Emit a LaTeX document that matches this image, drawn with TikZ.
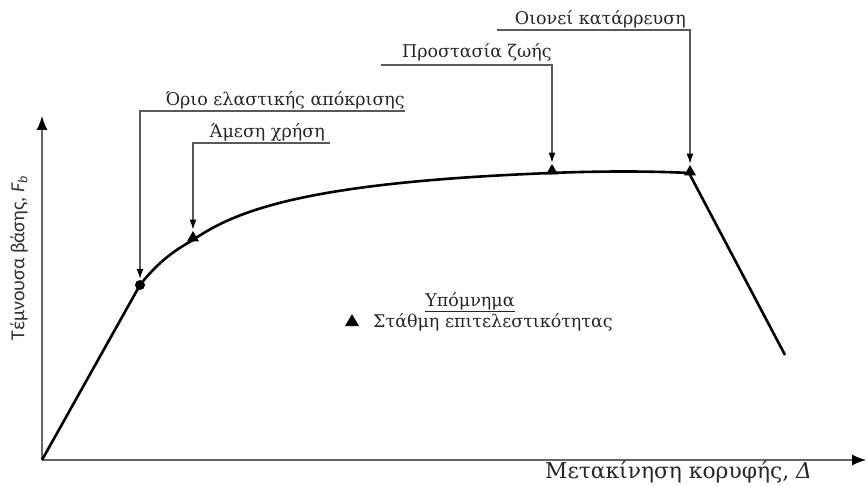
\documentclass[tikz,border=0pt]{standalone}
\usepackage{fontspec}
\setmainfont{DejaVu Serif}
\newfontfamily\ysans{Carlito}
\usetikzlibrary{positioning,shapes.geometric,arrows.meta}
\tikzset{% default arrow tips
    >=latex
}

\begin{document}
\begin{tikzpicture}[x=1pt,y=-1pt]
    \newcommand{\lw}{2.6pt} % width of the capacity curve
    \newcommand{\fs}{\fontsize{17.5}{20}\selectfont}

    % styles
    \tikzset{
        lbl/.style={font=\fs, text=black!85, inner sep=0pt},
        leader/.style={->, >={Latex[length=10pt,width=7pt,black]}, draw=black!65, line width=1.1pt, shorten >=1pt},
        axis/.style={->, >={Latex[length=14pt,width=11pt,black]}, draw=black!60, line width=1.2pt},
        tri/.style={regular polygon, regular polygon sides=3, fill=black, inner sep=0pt, minimum size=14pt},
        dot/.style={circle, fill=black, inner sep=0pt, minimum size=10pt},
        curve/.style={line width=\lw, line join=round}
    }
    \useasboundingbox (0,0) rectangle (867,486);

    % axes
    \coordinate (O) at (42,460);
    \coordinate (ytip) at (42,116);
    \coordinate (xtip) at (866,460);
    \draw[axis] (O) -- (ytip);
    \draw[axis] (O) -- (xtip);
    \node[font=\ysans\fontsize{20}{22}\selectfont, rotate=90, text=black!80, inner sep=0pt] (ylab) at (19,258) {Τέμνουσα βάσης, \textit{F}\textsubscript{\textit{b}}};
    \node[lbl, font=\fontsize{21.8}{24}\selectfont, anchor=base west] (xlab) at (545,478) {Μετακίνηση κορυφής, \textit{Δ}};

    % capacity curve
    \draw[curve] (O) -- (140,285)
        .. controls (158,262) and (175,250) .. (193,240)
        .. controls (240,207) and (320,182) .. (551,173)
        .. controls (600,171) and (650,171) .. (689,173)
        -- (785,355);

    % performance levels
    \node[dot] (E) at (140,285) {};
    \node[tri] (A) at (193,238) {};
    \node[tri] (P) at (552,171) {};
    \node[tri] (C) at (690,172) {};

    % labels with leaders
    \node[lbl, anchor=base east] (orio) at (405,106) {Όριο ελαστικής απόκρισης};
    \coordinate (orioEnd) at (405,111);
    \draw[leader] (orioEnd) -| (E);

    \node[lbl, anchor=base east] (amesi) at (325,138) {Άμεση χρήση};
    \coordinate (amesiEnd) at (330,143);
    \draw[leader] (amesiEnd) -| (A);

    \node[lbl, anchor=base east] (prost) at (552,58) {Προστασία ζωής};
    \coordinate (prostEnd) at (381,65);
    \draw[leader] (prostEnd) -| (P);

    \node[lbl, anchor=base east] (oionei) at (686,25) {Οιονεί κατάρρευση};
    \coordinate (oioneiEnd) at (497,30);
    \draw[leader] (oioneiEnd) -| (C);

    % legend
    \node[lbl] (legT) at (470,302) {\underline{Υπόμνημα}};
    \node[tri, minimum size=16pt] (legM) at (352,322) {};
    \node[lbl, anchor=base west] (legText) at (373,327) {Στάθμη επιτελεστικότητας};
\end{tikzpicture}
\end{document}
